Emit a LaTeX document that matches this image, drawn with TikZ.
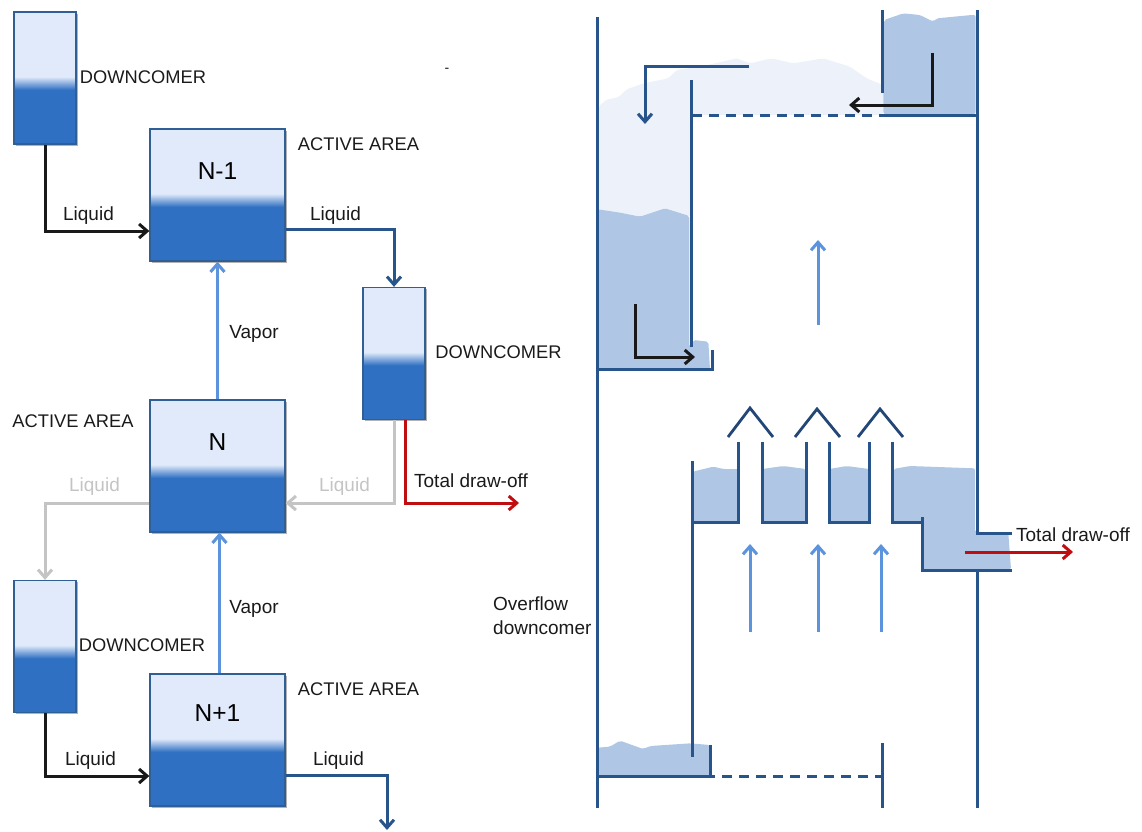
\documentclass[tikz,border=0pt]{standalone}
\usepackage{fontspec}
\setmainfont{Liberation Sans}
\usetikzlibrary{arrows.meta,shadows}
\definecolor{tankdark}{HTML}{2F70C2}
\definecolor{tanklight}{HTML}{E0EAFB}
\definecolor{tankedge}{HTML}{2F5F94}
\definecolor{navyline}{HTML}{28548C}
\definecolor{vaporblue}{HTML}{5B93DC}
\definecolor{drawred}{HTML}{C00D10}
\definecolor{grayflow}{HTML}{C4C4C4}
\definecolor{liquidfill}{HTML}{AFC7E5}
\definecolor{frothfill}{HTML}{EDF2FA}
\definecolor{inktext}{HTML}{1A1A1A}
\pgfdeclareverticalshading{tankshade}{100bp}{
  color(0bp)=(tankdark); color(45.5bp)=(tankdark);
  color(50.5bp)=(tanklight); color(100bp)=(tanklight)}
\tikzset{
  tank/.style={rectangle,draw=tankedge,line width=1.3pt,shading=tankshade,
    drop shadow={shadow xshift=1.5pt,shadow yshift=-1.5pt,opacity=.3,fill=black},inner sep=0pt},
  dctank/.style={tank,minimum width=62pt,minimum height=132pt},
  trayarea/.style={tank,minimum width=135pt,minimum height=132pt},
  tanklabel/.style={font=\fontsize{24.5}{28}\selectfont,text=black},
  cap18/.style={font=\fontsize{18.3}{22}\selectfont,text=inktext,inner sep=0pt},
  txt19/.style={font=\fontsize{19}{23}\selectfont,text=inktext,inner sep=0pt},
  barb/.style={-{Straight Barb[length=8pt,width=14pt,line width=3pt]}},
  blackflow/.style={barb,draw=black!90,line width=3pt},
  navyflow/.style={barb,draw=navyline,line width=3pt},
  vaporflow/.style={barb,draw=vaporblue,line width=3pt},
  grayf/.style={barb,draw=grayflow,line width=3pt},
  redflow/.style={barb,draw=drawred,line width=3pt},
  wall/.style={draw=navyline,line width=3pt,line cap=butt},
  capline/.style={draw=navyline!85!black,line width=2.8pt},
  liquid/.style={fill=liquidfill,draw=none,rounded corners=2pt},
  froth/.style={fill=frothfill,draw=none,rounded corners=3pt},
}
\begin{document}
\begin{tikzpicture}[x=1pt,y=-1pt]
\useasboundingbox (0,0) rectangle (1142,831);
% ---- left: flow scheme
\node[dctank] (dca) at (45,78) {};
\node[trayarea,label={[yshift=24pt,tanklabel]center:N-1}] (na) at (217.5,195) {};
\node[dctank] (dcb) at (394,353.5) {};
\node[trayarea,label={[yshift=24pt,tanklabel]center:N}] (nb) at (217.5,466) {};
\node[dctank] (dcc) at (45,646.5) {};
\node[trayarea,label={[yshift=27pt,tanklabel]center:N+1}] (nc) at (217.5,740) {};
\coordinate (redend) at (519,503);
\coordinate (outend) at (387,830);
\draw[blackflow] (dca.south) |- ([yshift=-36pt]na.west);
\draw[navyflow] ([yshift=-34pt]na.east) -| (dcb.north);
\draw[vaporflow] (nb.north) -- (na.south);
\draw[grayf] (dcb.south) |- ([yshift=-37pt]nb.east);
\draw[redflow] ([xshift=11pt]dcb.south) |- (redend);
\draw[grayf] ([yshift=-37pt]nb.west) -| (dcc.north);
\draw[vaporflow] ([xshift=2pt]nc.north) -- ([xshift=2pt]nb.south);
\draw[blackflow] (dcc.south) |- ([yshift=-36pt]nc.west);
\draw[navyflow] ([yshift=-35pt]nc.east) -| (outend);
\node[cap18] (t1) at (143,77) {DOWNCOMER};
\node[cap18] (t2) at (358.5,144.5) {ACTIVE AREA};
\node[cap18] (t3) at (498.5,352) {DOWNCOMER};
\node[cap18] (t4) at (73,421.5) {ACTIVE AREA};
\node[cap18] (t5) at (142,645.5) {DOWNCOMER};
\node[cap18] (t6) at (358.5,689.5) {ACTIVE AREA};
\node[txt19] (l1) at (88.5,216) {Liquid};
\node[txt19] (l2) at (335.5,216) {Liquid};
\node[txt19] (l3) at (254,333.5) {Vapor};
\node[txt19,text=grayflow] (l4) at (344.5,487) {Liquid};
\node[txt19,text=grayflow] (l5) at (94.5,487) {Liquid};
\node[txt19] (l6) at (471,481) {Total draw-off};
\node[txt19] (l7) at (254,608.5) {Vapor};
\node[txt19] (l8) at (90.5,761) {Liquid};
\node[txt19] (l9) at (338.5,761) {Liquid};
\node[font=\fontsize{14}{16}\selectfont,text=inktext,inner sep=0pt] (dash) at (447,70) {-};
% ---- right: column section, fills
\begin{scope}[shift={(590,0)},scale=1/3]
\fill[froth] (25,320)--(50,298)--(85,292)--(110,268)--(160,250)--(235,235)--(260,210)--(330,200)--(440,175)--(480,190)--(545,175)--(610,190)--(700,175)--(780,200)--(830,235)--(880,255)--(880,345)--(304,345)--(304,650)--(25,650)--cycle;
\fill[liquid] (882,60)--(940,40)--(990,45)--(1030,65)--(1040,55)--(1145,45)--(1157,45)--(1157,342)--(880,342)--cycle;
\fill[liquid] (24,628)--(90,638)--(150,650)--(225,625)--(298,648)--(298,1040)--(310,1020)--(355,1025)--(360,1108)--(20,1108)--cycle;
\end{scope}
\begin{scope}[shift={(680,400)},scale=1/3]
\fill[liquid] (38,215)--(100,200)--(130,207)--(175,207)--(175,364)--(36,364)--cycle;
\fill[liquid] (247,207)--(310,198)--(378,207)--(378,364)--(247,364)--cycle;
\fill[liquid] (448,207)--(500,198)--(568,207)--(568,364)--(448,364)--cycle;
\fill[liquid] (640,207)--(690,198)--(885,205)--(885,395)--(985,400)--(993,508)--(730,508)--(725,364)--(640,364)--cycle;
\end{scope}
\begin{scope}[shift={(590,720)},scale=1/3]
\fill[liquid] (22,83)--(60,80)--(90,62)--(160,87)--(180,78)--(300,70)--(360,75)--(360,167)--(22,167)--cycle;
\end{scope}
% walls
\draw[wall] (597,17) -- (597,808);
\draw[wall] (977,10) -- (977,533) -- (1012,533);
\draw[wall] (1012,570) -- (922,570) -- (922,517);
\draw[wall] (977,570) -- (977,808);
\draw[wall] (882,10) -- (882,93);
\draw[wall] (882,115) -- (977,115);
\draw[wall,dash pattern=on 10pt off 7pt] (692,115) -- (882,115);
\draw[wall] (691,80) -- (691,347);
\draw[wall] (597,369) -- (712,369) -- (712,350);
\draw[wall] (692,461) -- (692,757);
\draw[wall] (692,522) -- (738.5,522) -- (738.5,442);
\draw[wall] (762,442) -- (762,522) -- (806,522) -- (806,442);
\draw[wall] (829,442) -- (829,522) -- (869,522) -- (869,442);
\draw[wall] (892,442) -- (892,522) -- (922,522);
\draw[wall] (597,776) -- (715,776);
\draw[wall] (710,745) -- (710,776);
\draw[wall,dash pattern=on 10pt off 7pt] (722,776) -- (882,776);
\draw[wall] (882,743) -- (882,808);
\draw[capline] (728,437) -- (750,408) -- (773,437);
\draw[capline] (795,437) -- (817,409) -- (840,437);
\draw[capline] (858,437) -- (880,409) -- (903,437);
% flows inside the column
\draw[navyflow] (749,66) -- (645,66) -- (645,124);
\draw[blackflow] (932,53) -- (932,105) -- (849,105);
\draw[blackflow] (635,304) -- (635,357) -- (695,357);
\draw[vaporflow] (818,325) -- (818,240);
\draw[vaporflow] (750,632) -- (750,544);
\draw[vaporflow] (818,632) -- (818,544);
\draw[vaporflow] (881,632) -- (881,544);
\draw[redflow] (965,552) -- (1073,552);
\node[txt19] (t7) at (1073,535) {Total draw-off};
\node[txt19,align=left,anchor=north west,font=\fontsize{19}{24}\selectfont] (t8) at (493,597) {Overflow\\downcomer};
\end{tikzpicture}
\end{document}
